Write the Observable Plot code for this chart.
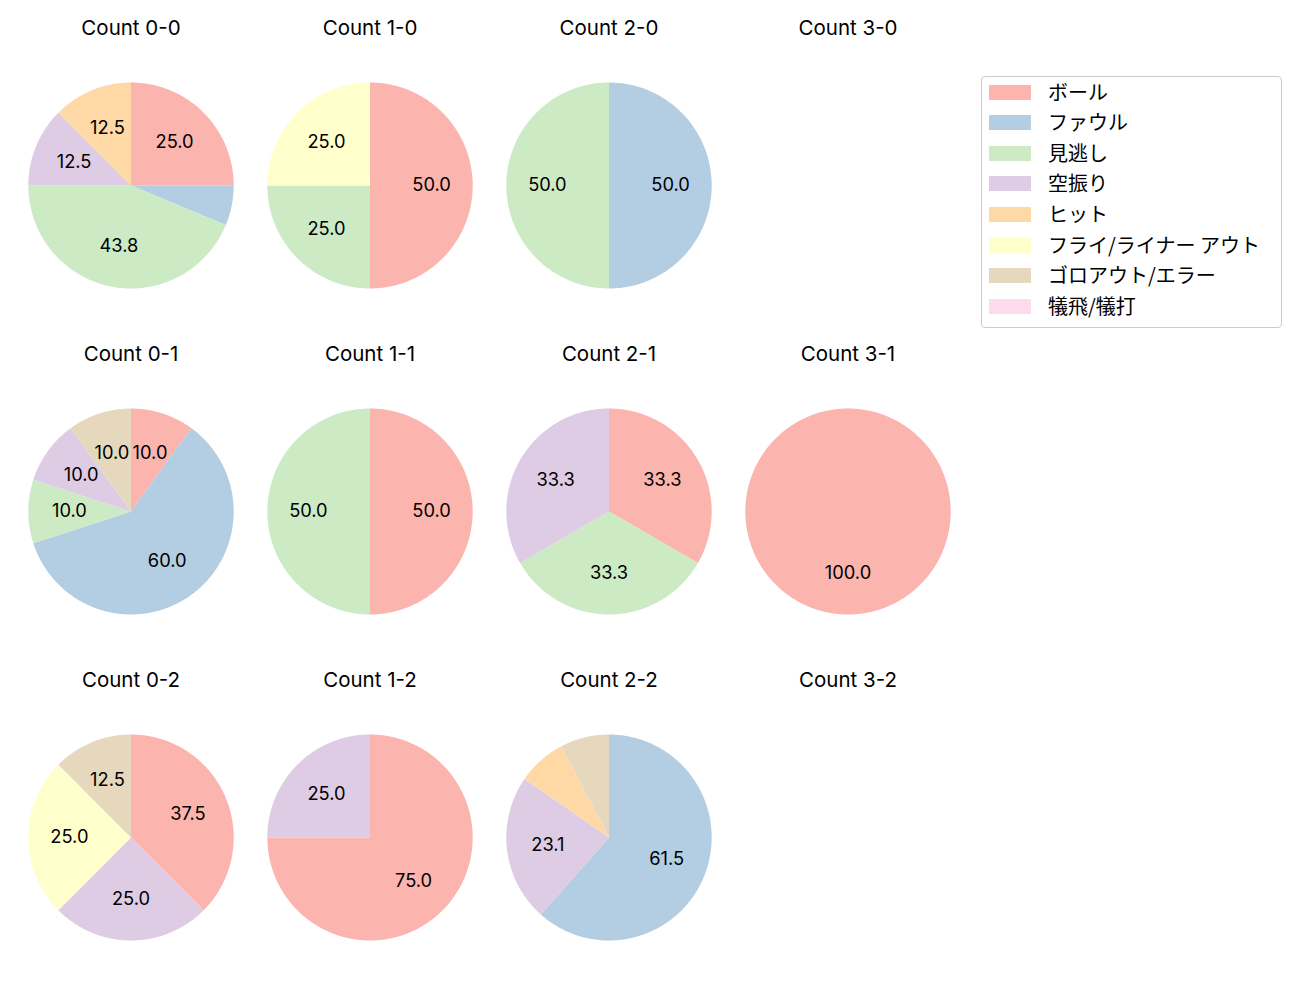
<!DOCTYPE html>
<html><head><meta charset="utf-8">
<script src="https://cdn.jsdelivr.net/npm/d3@7"></script>
<script src="https://cdn.jsdelivr.net/npm/@observablehq/plot@0.6"></script>
<style>
body{margin:0;background:#fff;font-family:"Noto Sans CJK JP","Noto Sans",sans-serif;}
#wrap{position:relative;width:1300px;height:1000px;overflow:hidden}
#legend{position:absolute;left:981px;top:76px;width:301px;height:252px;border:1px solid #cccccc;border-radius:4px;box-sizing:border-box;background:#fff}
.row{position:absolute;left:0;height:20px;display:flex;align-items:center}
.sw{position:absolute;left:7px;width:42px;height:15px}
.lb{position:absolute;left:66px;font-size:20px;white-space:nowrap;color:#000;line-height:20px}
</style></head><body><div id="wrap"></div>
<script>
const categories = ["ボール","ファウル","見逃し","空振り","ヒット","フライ/ライナー アウト","ゴロアウト/エラー","犠飛/犠打"];
const colors = ["#fbb4ae","#b3cde3","#ccebc5","#decbe4","#fed9a6","#ffffcc","#e5d8bd","#fddaec"];
const balls = ["0","1","2","3"];
const strikes = ["0","1","2"];
// counts per category (same order as categories)
const count_0_0 = [4,1,7,2,2,0,0,0];
const count_1_0 = [2,0,1,0,0,1,0,0];
const count_2_0 = [0,1,1,0,0,0,0,0];
const count_3_0 = [0,0,0,0,0,0,0,0];
const count_0_1 = [1,6,1,1,0,0,1,0];
const count_1_1 = [1,0,1,0,0,0,0,0];
const count_2_1 = [1,0,1,1,0,0,0,0];
const count_3_1 = [1,0,0,0,0,0,0,0];
const count_0_2 = [3,0,0,2,0,2,1,0];
const count_1_2 = [3,0,0,1,0,0,0,0];
const count_2_2 = [0,8,0,3,1,0,1,0];
const count_3_2 = [0,0,0,0,0,0,0,0];

const table = [
  ["0","0",count_0_0],["1","0",count_1_0],["2","0",count_2_0],["3","0",count_3_0],
  ["0","1",count_0_1],["1","1",count_1_1],["2","1",count_2_1],["3","1",count_3_1],
  ["0","2",count_0_2],["1","2",count_1_2],["2","2",count_2_2],["3","2",count_3_2]
];

const pie = d3.pie().sort(null).value(d => d.v).startAngle(0).endAngle(2*Math.PI);
const slicePts = [], labels = [], titles = [];
for (const [b, s, vals] of table) {
  titles.push({b, s, t: `Count ${b}-${s}`});
  const total = d3.sum(vals);
  if (!total) continue;
  const arcs = pie(vals.map((v, i) => ({v, c: categories[i]})));
  for (const a of arcs) {
    if (a.data.v <= 0) continue;
    const id = `${b}-${s}-${a.data.c}`;
    const n = Math.max(2, Math.ceil((a.endAngle - a.startAngle) / (Math.PI/180)));
    slicePts.push({b, s, id, c: a.data.c, x: 0, y: 0});
    for (let k = 0; k <= n; k++) {
      const ang = a.startAngle + (a.endAngle - a.startAngle) * k / n;
      slicePts.push({b, s, id, c: a.data.c, x: Math.sin(ang), y: Math.cos(ang)});
    }
    const pct = a.data.v / total * 100;
    if (pct >= 10) {
      const mid = (a.startAngle + a.endAngle) / 2;
      labels.push({b, s, x: 0.6*Math.sin(mid), y: 0.6*Math.cos(mid), t: pct.toFixed(1)});
    }
  }
}

const latin = 'Inter,"Noto Sans CJK JP",sans-serif';
const chart = Plot.plot({
  width: 1300, height: 1000,
  marginLeft: 9, marginRight: 332, marginTop: 22, marginBottom: 0,
  fx: {domain: balls, axis: null, padding: 0},
  fy: {domain: strikes, axis: null, padding: 0},
  x: {domain: [-1.1638, 1.1638], axis: null},
  y: {domain: [-1.5825, 1.5825], axis: null},
  color: {domain: categories, range: colors},
  style: {fontFamily: latin, background: "#fff"},
  marks: [
    Plot.line(slicePts, {x: "x", y: "y", z: "id", fill: "c", stroke: null, fx: "b", fy: "s", curve: "linear"}),
    Plot.text(labels, {x: "x", y: "y", text: "t", fx: "b", fy: "s", fontSize: 18.3, fill: "#000"}),
    Plot.text(titles, {text: "t", fx: "b", fy: "s", frameAnchor: "top", dy: -2, fontSize: 20.5, fill: "#000"})
  ]
});
const wrap = document.getElementById("wrap");
wrap.appendChild(chart);
chart.style.position = "absolute"; chart.style.left = "0"; chart.style.top = "0";

const legend = document.createElement("div");
legend.id = "legend";
categories.forEach((c, i) => {
  const row = document.createElement("div");
  row.className = "row";
  row.style.top = (4.5 + i * 30.6) + "px";
  row.innerHTML = `<span class="sw" style="background:${colors[i]};top:3px"></span><span class="lb">${c}</span>`;
  legend.appendChild(row);
});
wrap.appendChild(legend);
</script></body></html>
